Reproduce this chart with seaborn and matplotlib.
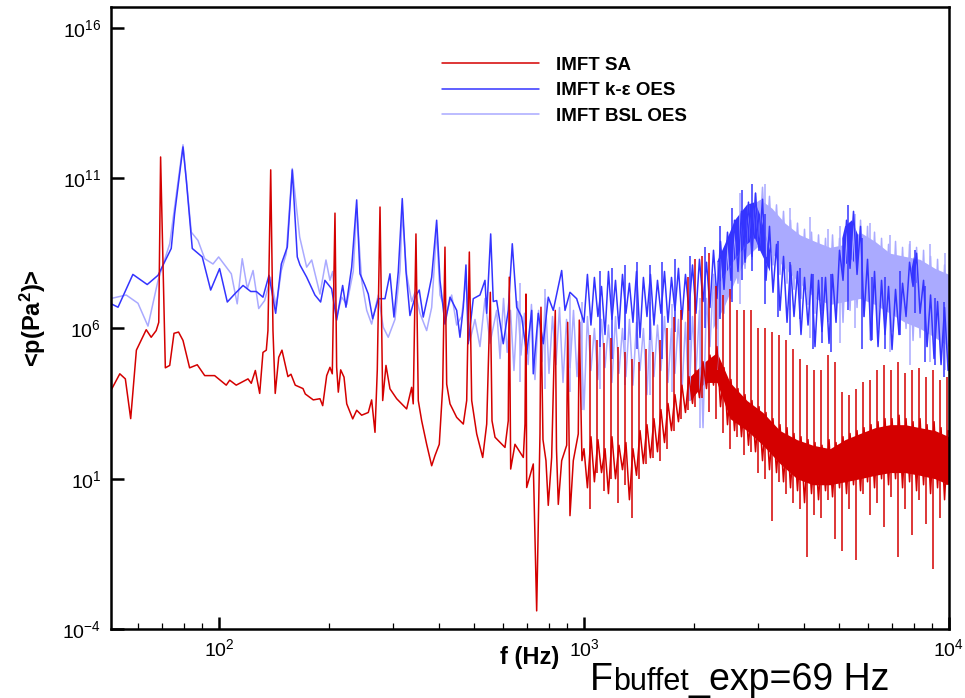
import numpy as np
import matplotlib
matplotlib.use("Agg")
import matplotlib.pyplot as plt
import seaborn as sns
from matplotlib.ticker import LogLocator, NullFormatter, NullLocator
from matplotlib.offsetbox import TextArea, HPacker, AnchoredOffsetbox

#######################
# DATA
#######################

# common frequency grid of the dense (noisy) high frequency part, Hz
hf_freq = [1000, 1022, 1045, 1068, 1092, 1117, 1142, 1167, 1193, 1220,
           1247, 1275, 1303, 1332, 1362, 1393, 1424, 1455, 1488, 1521,
           1555, 1590, 1625, 1662, 1699, 1737, 1775, 1815, 1855, 1897,
           1939, 1983, 2027, 2072, 2119, 2166, 2214, 2264, 2314, 2366,
           2419, 2473, 2528, 2585, 2642, 2701, 2762, 2823, 2886, 2951,
           3017, 3084, 3153, 3223, 3295, 3369, 3444, 3521, 3600, 3680,
           3762, 3846, 3932, 4020, 4110, 4201, 4295, 4391, 4489, 4589,
           4692, 4797, 4904, 5013, 5125, 5240, 5357, 5476, 5599, 5724,
           5851, 5982, 6116, 6252, 6392, 6535, 6680, 6830, 6982, 7138,
           7298, 7461, 7627, 7798, 7972, 8150, 8332, 8518, 8708, 8903,
           9102, 9305, 9512, 9725, 9942]

# ---- IMFT SA ----
sa_freq = [50.7, 53.5, 55.4, 57.3, 59.4, 63.2, 65.2, 67.3, 68.4, 69.2, 71.3, 73.3, 75.3, 77.5, 79.7,
           83.1, 87.2, 91.4, 97.3, 104.7, 107.0, 111.5, 120.1, 122.6, 125.8, 129.3, 132.0, 134.8, 136.2,
           138.6, 140.6, 142.6, 145.8, 148.8, 154.5, 157.5, 161.8, 169.9, 172.4, 181.3, 189.1, 192.4,
           197.3, 201.4, 204.4, 207.9, 210.1, 212.3, 215.5, 220.1, 223.9, 232.5, 238.4, 246.0, 256.5,
           262.0, 267.6, 271.5, 276.2, 280.9, 286.8, 294.1, 306.8, 326.7, 337.2, 340.6, 346.5, 351.6,
           359.2, 370.7, 382.6, 390.7, 401.4, 410.1, 416.1, 420.6, 429.5, 448.0, 467.1, 477.2, 485.2,
           492.5, 508.3, 527.9, 541.4, 553.9, 559.8, 570.6, 607.6, 620.3, 624.2, 629.8, 647.1, 682.0,
           689.3, 693.6, 696.7, 726.3, 742.0, 757.7, 762.4, 772.1, 786.8, 798.3, 815.6, 834.4, 840.8,
           850.4, 868.8, 896.7, 902.3, 915.5, 934.9, 964.7, 970.8, 987.4]
sa_psd = [9.1e3, 3.1e4, 2.1e4, 1.0e3, 1.9e5, 9.1e5, 5.1e5, 8.5e5, 1.6e6, 5.1e11, 4.9e4, 5.9e4, 6.9e5,
          7.6e5, 4.0e5, 4.9e4, 6.2e4, 2.7e4, 2.7e4, 1.3e4, 1.9e4, 1.3e4, 2.1e4, 1.5e4, 4.0e4, 6.9e3,
          1.6e5, 1.9e5, 8.5e5, 1.9e11, 8.5e5, 6.9e3, 1.1e5, 1.9e5, 2.5e4, 3.0e4, 1.3e4, 1.0e4, 6.6e3,
          4.2e3, 4.6e3, 2.7e3, 2.7e4, 5.1e4, 3.1e4, 6.9e9, 5.1e4, 7.6e3, 4.2e4, 2.4e4, 3.1e3, 9.8e2,
          1.9e3, 1.3e3, 1.6e3, 4.2e3, 3.5e2, 4.2e4, 1.1e10, 4.0e3, 5.9e4, 9.8e3, 4.6e3, 2.1e3, 1.1e4,
          3.1e3, 1.4e9, 4.0e3, 8.5e2, 1.4e2, 2.7e1, 5.9e1, 1.4e2, 1.1e4, 5.1e8, 1.4e4, 3.1e3, 1.1e3,
          6.6e2, 4.0e3, 3.5e8, 4.0e3, 3.1e2, 5.1e1, 6.6e2, 1.6e7, 8.5e2, 2.4e2, 1.1e2, 8.5e2, 5.1e7,
          2.1e1, 1.4e2, 5.1e1, 6.6e2, 1.4e7, 5.1e0, 3.1e1, 4.0e-4, 3.1e2, 5.1e6, 2.0e2, 4.0e1, 1.3e0,
          5.1e1, 4.0e6, 1.0e2, 1.4e0, 4.0e1, 1.3e2, 1.6e6, 5.9e-1, 4.0e1, 3.1e2, 1.9e6, 4.0e1]
sa_hf_psd = [1.0e2, 5.0e0, 2.5e2, 7.9e0, 2.0e2, 1.6e1, 1.0e2, 3.2e0, 2.5e2, 1.0e1,
             1.3e2, 2.0e1, 1.6e2, 2.0e0, 1.0e2, 1.3e1, 4.0e2, 3.2e1, 6.3e2, 5.0e1,
             1.0e3, 7.9e1, 2.0e3, 1.6e2, 3.2e3, 4.0e2, 6.3e3, 7.9e2, 1.3e4, 1.6e3,
             2.5e4, 3.2e3, 4.0e4, 5.0e3, 7.9e4, 1.0e4, 1.3e5, 1.3e4, 2.5e5, 2.5e3,
             5.0e4, 6.3e2, 2.0e4, 4.0e2, 1.0e4, 2.5e2, 6.3e3, 1.3e2, 4.0e3, 7.9e1,
             2.5e3, 4.0e1, 1.6e3, 2.0e1, 1.0e3, 1.6e1, 6.3e2, 7.9e0, 5.0e2, 5.0e0,
             3.2e2, 4.0e0, 2.5e2, 1.6e0, 2.0e2, 3.2e0, 1.6e2, 2.0e0, 1.3e2, 4.0e0,
             2.0e2, 2.5e0, 1.6e2, 5.0e0, 2.5e2, 3.2e0, 3.2e2, 6.3e0, 4.0e2, 4.0e0,
             5.0e2, 7.9e0, 6.3e2, 5.0e0, 7.9e2, 1.0e1, 1.0e3, 6.3e0, 1.0e3, 1.0e1,
             1.3e3, 5.0e0, 1.0e3, 7.9e0, 7.9e2, 4.0e0, 1.0e3, 6.3e0, 6.3e2, 3.2e0,
             7.9e2, 5.0e0, 5.0e2, 2.0e0, 4.0e2]
# solid core of the SA spectrum
sa_band_freq = [1951, 2145, 2314, 2512, 2796, 3093, 3443, 3833, 4240, 4721, 5190, 5705, 6272, 6894,
                7576, 8327, 9155, 10000]
sa_band_low = [4.0e3, 1.6e4, 1.6e4, 1.0e3, 4.0e2, 1.3e2, 3.2e1, 1.0e1, 6.3e0, 6.3e0, 7.9e0, 1.0e1,
               1.3e1, 1.6e1, 1.6e1, 1.3e1, 1.0e1, 6.3e0]
sa_band_high = [2.5e4, 7.9e4, 1.6e5, 1.6e4, 4.0e3, 1.6e3, 4.0e2, 2.0e2, 1.3e2, 1.0e2, 2.0e2, 3.2e2,
                5.0e2, 6.3e2, 6.3e2, 5.0e2, 4.0e2, 2.5e2]
# harmonic comb of SA (line from lowest to highest excursion)
sa_comb_freq = [1038, 1085, 1134, 1186, 1240, 1295, 1354, 1415, 1479, 1545, 1615, 1688, 1764, 1844, 1927,
                2014, 2105, 2200, 2299, 2403, 2512, 2625, 2744, 2868, 2997, 3133, 3274, 3422, 3576, 3738,
                3907, 4083, 4267, 4460, 4661, 4872, 5092, 5321, 5562, 5813, 6075, 6349, 6636, 6936, 7249,
                7576, 7917, 8275, 8649, 9039, 9447, 9874]
sa_comb_low = [1.0e0, 1.6e1, 4.0e0, 1.0e1, 1.6e0, 6.3e0, 5.0e-1, 1.0e1, 3.2e1, 5.0e1, 4.0e1, 1.0e2, 4.0e2,
               1.0e3, 2.0e3, 2.5e3, 5.0e3, 1.6e3, 1.0e3, 3.2e2, 1.0e2, 2.5e2, 6.3e1, 7.9e1, 1.6e1, 1.0e1,
               4.0e-1, 7.9e0, 3.2e0, 1.6e0, 1.0e0, 2.5e-2, 6.3e-1, 5.0e-1, 2.0e0, 1.0e-1, 4.0e-2, 1.0e0,
               2.0e-2, 3.2e0, 6.3e-1, 1.6e0, 2.5e-1, 2.5e0, 2.5e-2, 1.0e0, 1.3e-1, 2.0e0, 3.2e-1, 1.0e-2,
               5.0e-1, 6.3e0]
sa_comb_high = [6.3e5, 4.0e5, 3.2e5, 5.0e5, 2.5e5, 1.6e5, 1.0e5, 7.9e4, 2.0e5, 1.6e5, 4.0e5, 1.0e6, 2.5e6,
                4.0e6, 5.0e7, 2.0e8, 2.5e8, 3.2e8, 2.5e7, 1.3e7, 2.0e7, 4.0e6, 4.0e6, 4.0e6, 1.0e6, 1.0e6,
                7.9e5, 6.3e5, 4.0e5, 2.0e5, 1.0e5, 6.3e4, 4.0e4, 4.0e4, 1.3e5, 7.9e4, 7.9e3, 6.3e3, 1.0e4,
                1.6e4, 2.0e4, 4.0e4, 6.3e4, 4.0e4, 7.9e4, 3.2e4, 4.0e4, 5.0e4, 2.5e4, 4.0e4, 2.0e4, 2.5e4]

# ---- IMFT k-eps OES ----
ke_freq = [50.7, 52.9, 58.1, 63.6, 68.1, 74.0, 75.6, 79.7, 81.4, 84.5, 90.0, 94.9, 100.4, 105.4, 110.4,
           116.4, 122.2, 126.6, 132.0, 137.1, 143.0, 148.2, 153.9, 158.8, 163.9, 166.7, 173.9, 183.2,
           189.9, 195.1, 203.5, 210.1, 218.2, 222.8, 231.0, 238.4, 243.4, 251.2, 256.5, 263.7, 273.2,
           285.0, 294.1, 301.6, 309.9, 317.8, 325.3, 333.6, 344.4, 353.8, 362.8, 374.5, 382.6, 394.8,
           403.2, 416.1, 429.5, 448.0, 457.4, 467.1, 475.0, 481.9, 497.4, 518.9, 535.6, 541.4, 555.2,
           564.3, 576.5, 601.0, 620.3, 636.2, 654.1, 675.0, 696.7, 719.1, 726.3, 749.5, 773.5, 798.3,
           823.9, 868.8, 887.2, 915.5, 955.0]
ke_psd = [6.6e6, 5.1e6, 6.3e7, 2.9e7, 5.9e7, 4.6e8, 6.6e9, 1.1e12, 8.5e10, 4.6e8, 2.4e8, 1.9e7, 9.8e7,
          7.6e6, 1.4e7, 2.7e7, 1.7e7, 1.7e7, 1.1e7, 5.9e7, 3.2e6, 1.4e8, 5.1e8, 1.9e11, 2.4e8, 1.3e8,
          5.1e7, 1.3e7, 7.6e6, 4.0e7, 2.1e7, 1.9e6, 2.7e7, 5.1e6, 1.1e8, 1.9e10, 6.6e7, 2.7e7, 1.4e7,
          2.1e6, 9.8e6, 9.8e6, 6.6e7, 2.4e6, 7.6e7, 2.1e10, 8.5e7, 2.7e6, 1.1e7, 1.9e7, 2.4e6, 1.4e7,
          5.1e7, 4.0e9, 4.0e7, 1.4e6, 1.1e7, 4.0e6, 5.1e5, 5.1e6, 1.3e8, 3.1e5, 9.8e6, 1.3e7, 4.0e7,
          3.2e6, 1.4e9, 7.9e6, 8.5e6, 3.1e5, 4.0e6, 6.6e8, 5.1e6, 2.4e6, 1.4e5, 4.0e6, 3.1e4, 3.2e6,
          3.1e5, 1.1e7, 4.0e6, 8.5e7, 4.0e6, 1.6e7, 9.8e6]
ke_hf_psd = [1.6e6, 6.3e7, 1.3e6, 5.0e7, 2.5e6, 2.5e7, 6.3e5, 7.9e7, 2.0e6, 4.0e7,
             1.0e6, 6.3e7, 3.2e6, 3.2e7, 1.6e6, 7.9e7, 5.0e5, 5.0e7, 2.5e6, 6.3e7,
             1.3e6, 4.0e7, 3.2e6, 7.9e7, 1.6e6, 5.0e7, 4.0e6, 1.0e8, 2.0e6, 6.3e7,
             4.0e6, 1.3e8, 3.2e6, 2.0e8, 7.9e6, 1.6e8, 5.0e6, 4.0e8, 1.0e7, 7.9e8,
             2.0e7, 1.6e9, 4.0e7, 4.0e9, 7.9e7, 7.9e9, 1.6e8, 1.6e10, 2.5e8, 3.2e10,
             4.0e8, 2.0e10, 4.0e7, 2.5e9, 1.6e7, 6.3e8, 4.0e6, 2.5e8, 1.6e6, 1.3e8,
             2.5e6, 7.9e7, 6.3e5, 5.0e7, 1.3e6, 6.3e7, 2.5e5, 4.0e7, 7.9e5, 5.0e7,
             3.2e5, 6.3e7, 1.6e6, 4.0e8, 4.0e7, 4.0e9, 1.0e8, 7.9e9, 6.3e7, 2.5e9,
             2.5e6, 2.0e8, 4.0e5, 7.9e7, 2.5e5, 4.0e7, 6.3e5, 2.5e7, 2.0e5, 2.0e7,
             6.3e5, 3.2e7, 2.5e6, 1.6e8, 2.5e7, 3.2e8, 3.2e6, 4.0e7, 2.5e5, 1.3e7,
             1.0e5, 7.9e6, 6.3e4, 5.0e6, 4.0e4]
# solid parts of k-eps: main hump and the two blobs (nan = gap)
ke_band_freq = [2314, 2434, 2592, 2796, 2941, 3035, 3233, 3340, 5100, 5190, 5424, 5635, 5760,
                7900, 8020, 8150]
ke_band_low = [2.5e7, 6.3e7, 2.0e8, 6.3e8, 1.0e9, 4.0e8, 7.9e7, np.nan, 6.3e7, 1.3e8, 2.0e8, 1.0e8, np.nan,
               3.2e7, 4.0e7, 3.2e7]
ke_band_high = [1.6e8, 6.3e8, 4.0e9, 1.3e10, 1.6e10, 6.3e9, 4.0e8, np.nan, 1.0e9, 2.5e9, 4.0e9, 1.3e9, np.nan,
                1.0e8, 2.5e8, 1.0e8]
ke_comb_freq = [1106, 1193, 1295, 1397, 1517, 1636, 1776, 1951, 2145, 2358, 2544, 2710, 2886, 3133, 3400,
                3668, 3907, 4240, 4489, 4751, 5287, 5776, 6152, 6677, 7341, 8069, 8597, 9155, 9690]
ke_comb_low = [2.5e5, 1.0e5, 4.0e5, 2.0e5, 4.0e5, 1.0e5, 7.9e5, 4.0e5, 1.0e6, 2.0e6, 7.9e6, 4.0e7, 7.9e7,
               6.3e6, 2.5e6, 6.3e5, 2.0e6, 2.0e5, 3.2e5, 1.6e5, 4.0e6, 2.0e5, 4.0e5, 2.0e5, 6.3e5, 3.2e6,
               7.9e4, 6.3e4, 2.5e4]
ke_comb_high = [7.9e7, 1.0e8, 1.3e8, 1.6e8, 1.3e8, 1.6e8, 2.0e8, 2.5e8, 5.0e8, 2.5e9, 1.0e10, 4.0e10,
                6.3e10, 6.3e9, 7.9e8, 1.6e8, 1.0e8, 6.3e7, 5.0e7, 6.3e7, 1.3e10, 1.0e9, 5.0e7, 5.0e7, 7.9e7,
                4.0e8, 2.5e7, 1.0e7, 7.9e6]

# ---- IMFT BSL OES ----
bsl_freq = [50.7, 55.7, 60.0, 63.9, 68.1, 73.3, 79.7, 84.0, 87.6, 91.4, 96.3, 99.8, 108.1, 112.2, 115.8,
            119.6, 124.0, 128.5, 133.4, 138.6, 143.5, 148.2, 152.9, 158.8, 166.4, 173.9, 179.5, 189.1,
            196.4, 201.4, 204.9, 210.1, 216.9, 223.9, 233.3, 238.4, 246.0, 254.0, 262.0, 273.2, 281.9,
            290.9, 303.5, 313.3, 317.8, 326.7, 337.2, 344.4, 355.4, 370.7, 382.6, 394.8, 403.2, 420.6,
            434.0, 448.0, 462.3, 475.0, 487.2, 502.8, 518.9, 535.6, 552.7, 576.5]
bsl_psd = [1.0e7, 1.3e7, 6.9e6, 1.2e6, 4.0e7, 6.6e8, 1.3e12, 1.6e9, 8.5e8, 2.1e8, 1.4e8, 2.4e8, 6.6e7,
           6.6e6, 2.1e8, 2.1e7, 8.5e7, 4.6e6, 8.5e6, 5.1e7, 5.1e6, 8.5e7, 3.1e8, 2.1e11, 1.1e9, 1.1e8,
           1.9e8, 1.4e7, 1.9e8, 4.0e7, 7.9e7, 2.4e6, 1.1e7, 6.3e6, 7.9e7, 1.0e10, 4.0e7, 4.0e6, 1.4e6,
           1.3e7, 1.1e6, 5.1e5, 2.0e6, 8.5e7, 7.9e9, 6.3e7, 7.9e6, 1.6e7, 3.2e6, 8.5e5, 5.0e6, 2.0e9,
           1.3e7, 3.2e6, 1.3e7, 1.3e6, 2.5e6, 4.0e7, 4.0e5, 2.0e6, 2.5e5, 1.0e7, 3.2e5, 4.0e6]
bsl_mid_freq = [589, 602, 616, 629, 643, 658, 672, 687, 703, 718, 734, 751, 767, 784, 802, 820, 838,
                857, 876, 896, 916, 936, 957, 978]
bsl_mid_psd = [1.0e5, 1.0e7, 1.6e5, 4.0e6, 4.0e4, 7.9e6, 1.3e5, 3.2e6, 6.3e4, 6.3e6,
               2.0e4, 4.0e6, 7.9e4, 1.0e7, 3.2e4, 2.5e6, 6.3e4, 5.0e6, 1.6e4, 2.0e6,
               5.0e4, 4.0e6, 2.5e4, 1.6e6]
bsl_hf_psd = [2.0e3, 2.5e6, 4.0e4, 1.0e6, 2.0e4, 2.0e6, 5.0e4, 1.3e6, 1.6e4, 2.5e6,
              3.2e4, 1.0e6, 2.5e4, 2.0e6, 1.3e4, 1.6e6, 4.0e4, 1.0e6, 6.3e3, 2.0e6,
              2.5e4, 1.3e6, 4.0e4, 2.5e6, 1.6e4, 1.0e6, 3.2e4, 2.0e6, 7.9e3, 1.6e6,
              4.0e3, 2.5e6, 3.2e4, 4.0e6, 5.0e2, 1.0e7, 2.5e5, 6.3e7, 1.0e6, 2.0e8,
              3.2e6, 6.3e8, 1.0e7, 2.0e9, 3.2e7, 5.0e9, 1.0e8, 1.3e10, 2.0e8, 3.2e10,
              4.0e8, 5.0e10, 2.5e8, 2.5e10, 1.3e8, 1.3e10, 6.3e7, 7.9e9, 3.2e7, 4.0e9,
              2.0e7, 3.2e9, 1.0e7, 2.0e9, 6.3e6, 1.6e9, 3.2e6, 1.3e9, 4.0e6, 1.0e9,
              2.0e6, 1.3e9, 3.2e6, 1.0e9, 1.6e6, 2.0e9, 4.0e6, 3.2e9, 5.0e6, 4.0e9,
              2.5e6, 2.5e9, 2.0e6, 1.6e9, 1.0e6, 1.0e9, 1.6e6, 6.3e8, 7.9e5, 7.9e8,
              6.3e5, 5.0e8, 1.0e6, 6.3e8, 4.0e5, 5.0e8, 5.0e5, 4.0e8, 2.5e5, 2.5e8,
              1.6e5, 2.0e8, 1.0e5, 1.3e8, 7.9e4]
bsl_band_freq = [2256, 2434, 2592, 2796, 3035, 3274, 3554, 3907, 4295, 4721, 5190, 5705, 6272, 6894,
                 7576, 8327, 9155, 10000]
bsl_band_low = [1.0e6, 6.3e6, 4.0e7, 2.5e8, 6.3e8, 3.2e8, 1.0e8, 3.2e7, 1.0e7, 6.3e6, 7.9e6, 1.0e7,
                6.3e6, 3.2e6, 1.6e6, 1.0e6, 5.0e5, 2.5e5]
bsl_band_high = [1.6e7, 3.2e8, 2.5e9, 1.0e10, 2.0e10, 1.0e10, 3.2e9, 1.3e9, 7.9e8, 5.0e8, 6.3e8, 1.6e9,
                 7.9e8, 3.2e8, 2.5e8, 2.0e8, 1.0e8, 6.3e7]
bsl_comb_freq = [667.9, 782.0, 915.5, 987.4, 1106, 1295, 1517, 1742, 1951, 2079, 2329, 2676, 3133, 3668,
                 4162, 4661, 5028, 5528, 6075, 6894, 7819, 8869, 9750]
bsl_comb_low = [1.6e4, 1.0e4, 7.9e3, 2.0e3, 1.0e4, 1.3e4, 6.3e3, 7.9e3, 4.0e3, 5.0e2, 4.0e4, 6.3e6, 4.0e7,
                4.0e6, 5.0e5, 1.6e6, 3.2e5, 1.0e6, 4.0e5, 1.6e5, 6.3e4, 7.9e4, 4.0e4]
bsl_comb_high = [3.2e7, 2.0e7, 1.3e7, 7.9e6, 1.0e7, 7.9e6, 7.9e6, 6.3e6, 7.9e6, 1.0e7, 1.6e8, 3.2e10,
                 6.3e10, 1.0e10, 5.0e9, 2.0e9, 2.5e9, 6.3e9, 3.2e9, 1.3e9, 7.9e8, 6.3e8, 3.2e8]

labels = ["IMFT SA", "IMFT k-\u03b5 OES", "IMFT BSL OES"]

#######################
# STYLE
#######################

sns.set_style("ticks")
plt.rcParams['font.family'] = ['Liberation Sans', 'DejaVu Sans']
plt.rcParams['mathtext.fontset'] = 'custom'
plt.rcParams['mathtext.rm'] = 'Liberation Sans'
plt.rcParams['mathtext.it'] = 'Liberation Sans:italic'
plt.rcParams['mathtext.bf'] = 'Liberation Sans:bold'
plt.rcParams['text.color'] = 'black'
plt.rcParams['axes.labelcolor'] = 'black'
plt.rcParams['xtick.color'] = 'black'
plt.rcParams['ytick.color'] = 'black'

RED = '#d40000'
BLUE = '#3434ff'
LIGHT = '#aaaaff'
LW = 1.1

fig = plt.figure(figsize=(9.65, 6.98), dpi=100)
ax = fig.add_axes([0.115, 0.0989, 0.8684, 0.8911])
ax.set_xscale('log')
ax.set_yscale('log')


def draw_series(freq, psd, band_f, band_lo, band_hi, comb_f, comb_lo, comb_hi, color, label):
    ax.fill_between(band_f, band_lo, band_hi, color=color, lw=0)
    ax.vlines(comb_f, comb_lo, comb_hi, color=color, lw=LW)
    sns.lineplot(x=freq, y=psd, ax=ax, color=color, lw=LW, sort=False, estimator=None)
    line = ax.lines[-1]
    line.set_label(label)
    return line


h_bsl = draw_series(bsl_freq + bsl_mid_freq + hf_freq, bsl_psd + bsl_mid_psd + bsl_hf_psd,
                    bsl_band_freq, bsl_band_low, bsl_band_high,
                    bsl_comb_freq, bsl_comb_low, bsl_comb_high, LIGHT, labels[2])
h_ke = draw_series(ke_freq + hf_freq, ke_psd + ke_hf_psd,
                   ke_band_freq, ke_band_low, ke_band_high,
                   ke_comb_freq, ke_comb_low, ke_comb_high, BLUE, labels[1])
h_sa = draw_series(sa_freq + hf_freq, sa_psd + sa_hf_psd,
                   sa_band_freq, sa_band_low, sa_band_high,
                   sa_comb_freq, sa_comb_low, sa_comb_high, RED, labels[0])

ax.set_xlim(50.6, 1e4)
ax.set_ylim(1e-4, 5e16)

ax.set_yticks([1e-4, 1e1, 1e6, 1e11, 1e16])
ax.yaxis.set_minor_locator(NullLocator())
ax.xaxis.set_major_locator(LogLocator(base=10))
ax.xaxis.set_minor_locator(LogLocator(base=10, subs=np.arange(2, 10)))
ax.xaxis.set_minor_formatter(NullFormatter())
ax.tick_params(which='major', direction='in', length=9, width=1.8, labelsize=14, pad=7,
               top=False, right=False)
ax.tick_params(which='minor', direction='in', length=4.5, width=0.9, top=False, right=False)
for s in ax.spines.values():
    s.set_linewidth(1.8)
    s.set_color('black')

ax.set_xlabel('f (Hz)', fontsize=17, fontweight='bold')
ax.xaxis.set_label_coords(0.5, -0.028)
ax.set_ylabel(r'<p(Pa$^{\mathbf{2}}$)>', fontsize=17, fontweight='bold')
ax.yaxis.set_label_coords(-0.075, 0.5)

ax.legend(handles=[h_sa, h_ke, h_bsl], labels=labels, loc='upper left',
          bbox_to_anchor=(0.395, 0.92), frameon=False,
          prop=dict(weight='bold', size=13.5), handlelength=5.2, handletextpad=0.9,
          labelspacing=0.45, borderpad=0, borderaxespad=0)

# annotation under the plot: F(buffet)_exp=69 Hz
parts = [TextArea("F", textprops=dict(size=27, color='black')),
         TextArea("buffet", textprops=dict(size=22, color='black')),
         TextArea("_exp=69 Hz", textprops=dict(size=27, color='black'))]
box = HPacker(children=parts, align="baseline", pad=0, sep=0)
anchored = AnchoredOffsetbox(loc='lower left', child=box, pad=0, frameon=False, borderpad=0,
                             bbox_to_anchor=(0.611, 0.0), bbox_transform=fig.transFigure)
fig.add_artist(anchored)

fig.savefig("out.png", dpi=100)
